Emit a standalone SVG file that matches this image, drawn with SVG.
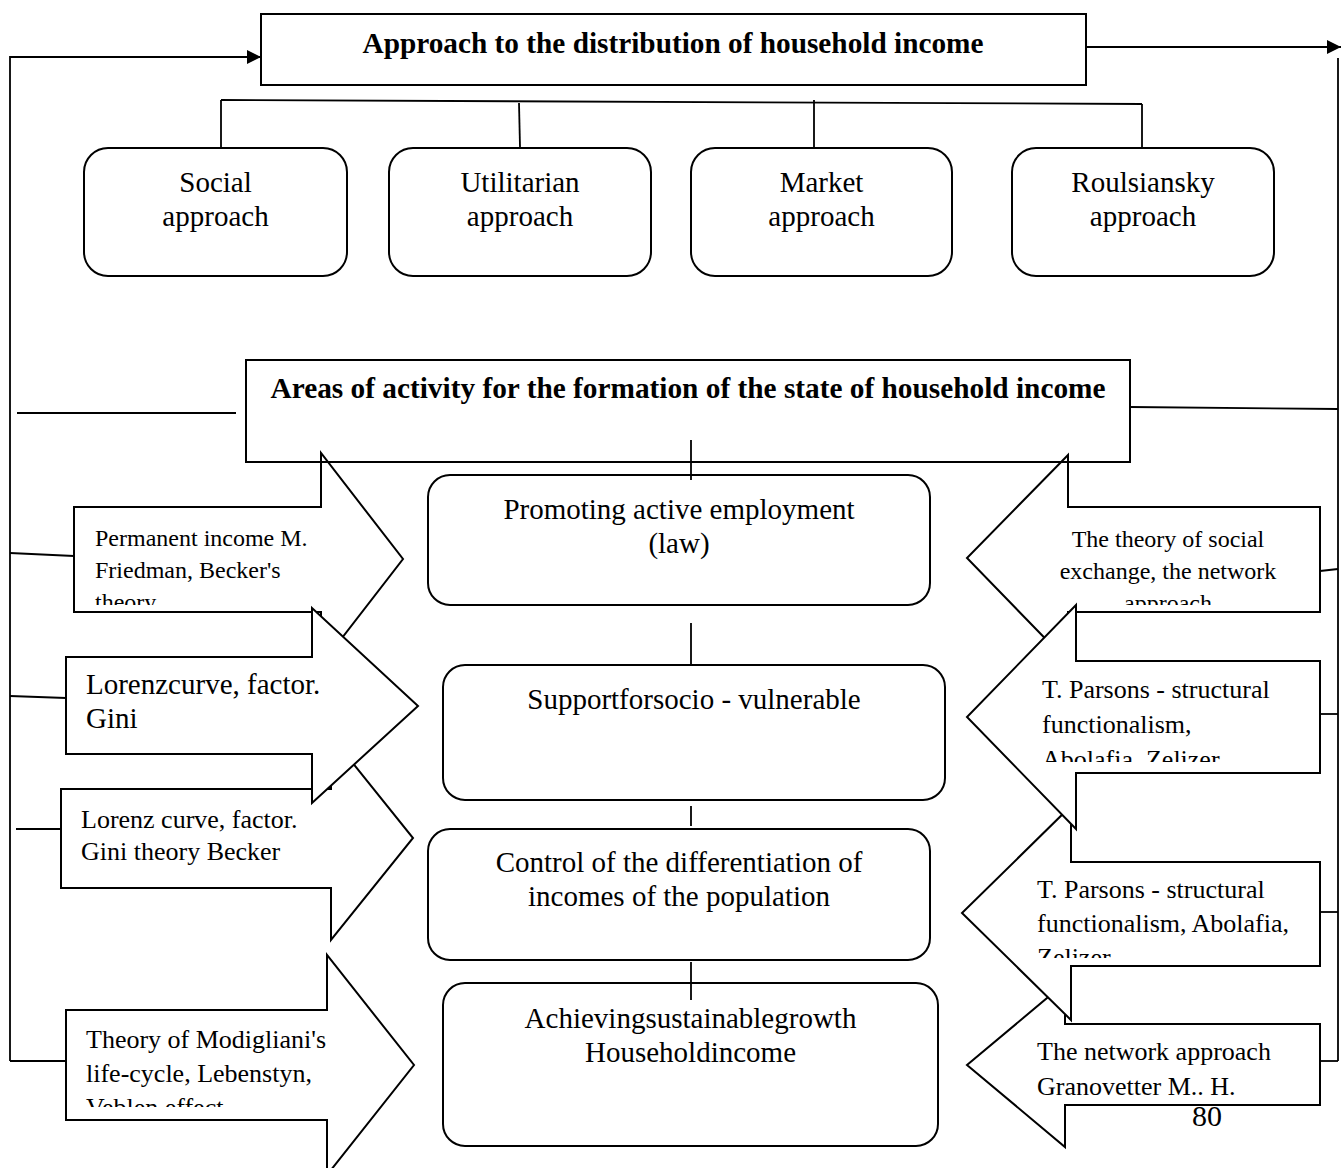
<svg xmlns="http://www.w3.org/2000/svg" width="1343" height="1168" viewBox="0 0 1343 1168">
<style>
  text { font-family: "Liberation Serif", "Times New Roman", serif; fill: #000; }
  .title { font-weight: bold; font-size: 29px; text-anchor: middle; }
  .box { fill: #fff; stroke: #000; stroke-width: 2; }
  .frame { fill: none; stroke: #000; stroke-width: 2; }
  .arrow { fill: #fff; stroke: #000; stroke-width: 2; stroke-linejoin: miter; }
  .t29 { font-size: 29px; }
  .t26 { font-size: 26px; }
  .t24 { font-size: 24px; }
  .mid { text-anchor: middle; }
  .conn line, .conn polyline { stroke: #000; stroke-width: 1.8; fill: none; }
</style>
<defs>
  <marker id="ah" markerWidth="14" markerHeight="14" refX="14" refY="7" orient="auto" markerUnits="userSpaceOnUse">
    <path d="M0,0 L14,7 L0,14 Z" fill="#000"/>
  </marker>
  <clipPath id="cL1"><rect x="60" y="500" width="300" height="105"/></clipPath>
  <clipPath id="cR1"><rect x="1000" y="500" width="330" height="105"/></clipPath>
  <clipPath id="cR2"><rect x="1000" y="655" width="330" height="107"/></clipPath>
  <clipPath id="cR3"><rect x="1000" y="855" width="330" height="103"/></clipPath>
  <clipPath id="cL4"><rect x="60" y="1005" width="300" height="102"/></clipPath>
</defs>
<rect width="1343" height="1168" fill="#fff"/>

<g id="node-approach">
  <rect class="box" x="261" y="14" width="825" height="71"/>
  <text class="title" x="673" y="53" textLength="621" lengthAdjust="spacingAndGlyphs">Approach to the distribution of household income</text>
</g>

<g id="node-social">
  <rect class="box" x="84" y="148" width="263" height="128" rx="24"/>
  <text class="t29 mid" x="215.5" y="192">Social</text>
  <text class="t29 mid" x="215.5" y="226">approach</text>
</g>
<g id="node-utilitarian">
  <rect class="box" x="389" y="148" width="262" height="128" rx="24"/>
  <text class="t29 mid" x="520" y="192">Utilitarian</text>
  <text class="t29 mid" x="520" y="226">approach</text>
</g>
<g id="node-market">
  <rect class="box" x="691" y="148" width="261" height="128" rx="24"/>
  <text class="t29 mid" x="821.5" y="192">Market</text>
  <text class="t29 mid" x="821.5" y="226">approach</text>
</g>
<g id="node-roulsiansky">
  <rect class="box" x="1012" y="148" width="262" height="128" rx="24"/>
  <text class="t29 mid" x="1143" y="192">Roulsiansky</text>
  <text class="t29 mid" x="1143" y="226">approach</text>
</g>

<g id="node-promoting">
  <rect class="box" x="428" y="475" width="502" height="130" rx="22"/>
  <text class="t29 mid" x="679" y="519">Promoting active employment</text>
  <text class="t29 mid" x="679" y="553">(law)</text>
</g>
<g id="node-support">
  <rect class="box" x="443" y="665" width="502" height="135" rx="22"/>
  <text class="t29 mid" x="694" y="709">Supportforsocio - vulnerable</text>
</g>
<g id="node-control">
  <rect class="box" x="428" y="829" width="502" height="131" rx="22"/>
  <text class="t29 mid" x="679" y="872">Control of the differentiation of</text>
  <text class="t29 mid" x="679" y="906">incomes of the population</text>
</g>
<g id="node-achieving">
  <rect class="box" x="443" y="983" width="495" height="163" rx="22"/>
  <text class="t29 mid" x="690.5" y="1028">Achievingsustainablegrowth</text>
  <text class="t29 mid" x="690.5" y="1062">Householdincome</text>
</g>

<text id="page-number" x="1192" y="1126" style="font-size:30px">80</text>

<!-- left arrows -->
<g id="node-permanent-income">
  <polygon class="arrow" points="74,507 321,507 321,453 403,559 321,665 321,612 74,612"/>
  <g clip-path="url(#cL1)" class="t24">
    <text x="95" y="546">Permanent income M.</text>
    <text x="95" y="578">Friedman, Becker's</text>
    <text x="95" y="610">theory</text>
  </g>
</g>
<g id="node-lorenz-becker">
  <polygon class="arrow" points="61,789 331,789 331,736 413,838 331,940 331,888 61,888"/>
  <text class="t26" x="81" y="828">Lorenz curve, factor.</text>
  <text class="t26" x="81" y="860">Gini theory Becker</text>
</g>
<g id="node-modigliani">
  <polygon class="arrow" points="66,1010 327,1010 327,955 414,1065 327,1175 327,1120 66,1120"/>
  <g clip-path="url(#cL4)" class="t26">
    <text x="86" y="1048">Theory of Modigliani's</text>
    <text x="86" y="1082">life-cycle, Lebenstyn,</text>
    <text x="86" y="1116">Veblen effect</text>
  </g>
</g>
<g id="node-lorenz-gini">
  <polygon class="arrow" points="66,657 312,657 312,608 418,706 312,803 312,754 66,754"/>
  <text class="t29" x="86" y="694">Lorenzcurve, factor.</text>
  <text class="t29" x="86" y="728">Gini</text>
</g>

<!-- right arrows -->
<g id="node-social-exchange">
  <polygon class="arrow" points="1320,507 1068,507 1068,455 967,558 1068,662 1068,612 1320,612"/>
  <g clip-path="url(#cR1)" class="t24 mid">
    <text x="1168" y="547">The theory of social</text>
    <text x="1168" y="579">exchange, the network</text>
    <text x="1168" y="611">approach</text>
  </g>
</g>
<g id="node-network-granovetter">
  <polygon class="arrow" points="1320,1024 1065,1024 1065,983 967,1065 1065,1147 1065,1105 1320,1105"/>
  <text class="t26" x="1037" y="1060">The network approach</text>
  <text class="t26" x="1037" y="1095">Granovetter M.. H.</text>
</g>
<g id="node-parsons-2">
  <polygon class="arrow" points="1320,862 1071,862 1071,806 962,913 1071,1020 1071,966 1320,966"/>
  <g clip-path="url(#cR3)" class="t26">
    <text x="1037" y="898">T. Parsons - structural</text>
    <text x="1037" y="932">functionalism, Abolafia,</text>
    <text x="1037" y="966">Zelizer</text>
  </g>
</g>
<g id="node-parsons-1">
  <polygon class="arrow" points="1320,661 1076,661 1076,605 967,717 1076,829 1076,773 1320,773"/>
  <g clip-path="url(#cR2)" class="t26">
    <text x="1042" y="698">T. Parsons - structural</text>
    <text x="1042" y="733">functionalism,</text>
    <text x="1042" y="768">Abolafia, Zelizer</text>
  </g>
</g>

<g id="node-areas">
  <rect class="frame" x="246" y="360" width="884" height="102"/>
  <text class="title" x="688" y="398" textLength="835" lengthAdjust="spacingAndGlyphs">Areas of activity for the formation of the state of household income</text>
</g>

<g id="connectors" class="conn">
  <polyline points="10,1061 10,57 261,57" marker-end="url(#ah)"/>
  <line x1="10" y1="1061" x2="66" y2="1061"/>
  <line x1="10" y1="553" x2="74" y2="556"/>
  <line x1="10" y1="696" x2="66" y2="698"/>
  <line x1="17" y1="413" x2="236" y2="413"/>
  <line x1="16" y1="829" x2="61" y2="829"/>

  <line x1="1086" y1="47" x2="1341" y2="47" marker-end="url(#ah)"/>
  <line x1="1338" y1="58" x2="1338" y2="1061"/>
  <line x1="1320" y1="1061" x2="1338" y2="1061"/>
  <line x1="1320" y1="571" x2="1338" y2="569"/>
  <line x1="1320" y1="714" x2="1338" y2="714"/>
  <line x1="1320" y1="912" x2="1338" y2="912"/>
  <line x1="1130" y1="407" x2="1338" y2="409"/>

  <line x1="221" y1="100" x2="1142" y2="104"/>
  <line x1="221" y1="100" x2="221" y2="147"/>
  <line x1="519" y1="103" x2="520" y2="147"/>
  <line x1="814" y1="100" x2="814" y2="147"/>
  <line x1="1142" y1="104" x2="1142" y2="147"/>

  <line x1="691" y1="440" x2="691" y2="480"/>
  <line x1="691" y1="623" x2="691" y2="664"/>
  <line x1="691" y1="806" x2="691" y2="826"/>
  <line x1="691" y1="962" x2="691" y2="1000"/>
</g>
</svg>
